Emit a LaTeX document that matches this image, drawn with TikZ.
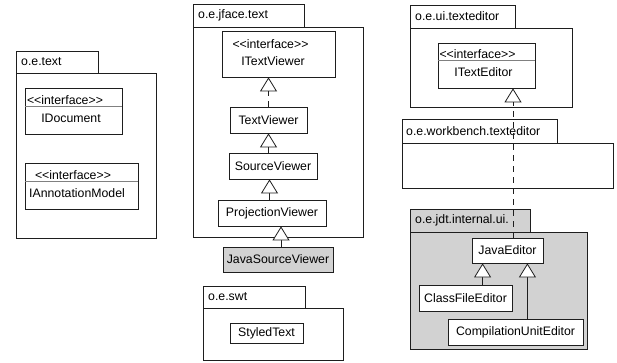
\documentclass[tikz,border=0pt]{standalone}
\usepackage{fontspec}
\newfontfamily\umlfont{Liberation Sans}
\usetikzlibrary{arrows.meta, calc}
\definecolor{pkggray}{RGB}{210,210,210}
\definecolor{boxline}{RGB}{30,30,30}

\tikzset{
  uml/.style={font=\umlfont\fontsize{12.3}{14}\selectfont},
  cls/.style={uml, draw=boxline, line width=0.8pt, fill=white, inner sep=0pt},
  txt/.style={uml, inner sep=0pt},
  pkg/.style={draw=boxline, line width=0.8pt},
  pkglabel/.style={uml, anchor=west, inner sep=0pt},
  gen/.style={line width=0.8pt, draw=boxline,
    -{Triangle[open, fill=white, length=14pt, width=17pt]}},
  real/.style={gen, dash pattern=on 6pt off 5pt}
}

\begin{document}
\begin{tikzpicture}[x=1pt, y=-1pt]

  \useasboundingbox (0,0) rectangle (617,363);

  % packages
  \draw[pkg] (16,73) rectangle (156,238);
  \draw[pkg] (16,51) rectangle (98,73);
  \node[pkglabel] (ptext) at (21,62) {o.e.text};

  \draw[pkg] (193,27) rectangle (363,237);
  \draw[pkg] (193,4) rectangle (304,27);
  \node[pkglabel] (pjface) at (198,15.5) {o.e.jface.text};

  \draw[pkg] (203,308) rectangle (343,360);
  \draw[pkg] (203,286) rectangle (305,308);
  \node[pkglabel] (pswt) at (208,297) {o.e.swt};

  \draw[pkg] (410,28) rectangle (572,107);
  \draw[pkg] (410,5) rectangle (515,28);
  \node[pkglabel] (puite) at (415,16.5) {o.e.ui.texteditor};

  \draw[pkg] (402,143) rectangle (613,188);
  \draw[pkg] (402,119) rectangle (557,143);
  \node[pkglabel] (pwbte) at (406,131) {o.e.workbench.texteditor};

  \draw[pkg, fill=pkggray] (410,232) rectangle (587,349);
  \draw[pkg, fill=pkggray] (410,209) rectangle (530,232);
  \node[pkglabel] (pjdt) at (415,220.5) {o.e.jdt.internal.ui.};

  % o.e.text
  \node[cls, minimum width=97pt, minimum height=46pt] (idoc) at (73.5,111) {};
  \draw[gray, thin] (idoc.west |- 0,106) -- (idoc.east |- 0,106);
  \node[txt] (idocst) at (65,100.5) {<<interface>>};
  \node[txt] (idocnm) at (71,118) {IDocument};

  \node[cls, minimum width=113pt, minimum height=46pt] (iam) at (81.5,186) {};
  \draw[gray, thin] (iam.west |- 0,181) -- (iam.east |- 0,181);
  \node[txt] (iamst) at (73,175.5) {<<interface>>};
  \node[txt] (iamnm) at (77,193) {IAnnotationModel};

  % o.e.jface.text
  \node[cls, minimum width=113pt, minimum height=46pt] (itv) at (278.5,54) {};
  \node[txt] (itvst) at (270.5,44) {<<interface>>};
  \node[txt] (itvnm) at (273,61) {ITextViewer};

  \node[cls, minimum width=77pt, minimum height=26pt] (tv) at (268.5,120) {TextViewer};
  \node[cls, minimum width=88pt, minimum height=26pt] (sv) at (273,166) {SourceViewer};
  \node[cls, minimum width=108pt, minimum height=26pt] (pv) at (272,213) {ProjectionViewer};
  \node[cls, fill=pkggray, minimum width=110pt, minimum height=25pt] (jsv) at (278,259.5) {JavaSourceViewer};

  % o.e.swt
  \node[cls, minimum width=73pt, minimum height=20pt] (st) at (266.5,333) {StyledText};

  % o.e.ui.texteditor
  \node[cls, minimum width=97pt, minimum height=45pt] (ite) at (486.5,65.5) {};
  \draw[gray, thin] (ite.west |- 0,60) -- (ite.east |- 0,60);
  \node[txt] (itest) at (477.5,54.5) {<<interface>>};
  \node[txt] (itenm) at (483.5,72) {ITextEditor};

  % o.e.jdt.internal.ui.
  \node[cls, minimum width=71pt, minimum height=25pt] (je) at (507.5,250.5) {JavaEditor};
  \node[cls, minimum width=93pt, minimum height=26pt] (cfe) at (465.5,298) {ClassFileEditor};
  \node[cls, minimum width=135pt, minimum height=26pt] (cue) at (515.5,332) {CompilationUnitEditor};

  % connectors
  \draw[real] (tv.north) -- (tv.north |- itv.south);
  \draw[gen] (tv.south |- sv.north) -- (tv.south);
  \draw[gen] ([xshift=1pt]tv.south |- pv.north) -- ([xshift=1pt]tv.south |- sv.south);
  \draw[gen] ([xshift=3pt]jsv.north) -- ([xshift=3pt]jsv.north |- pv.south);

  \draw[real] ([xshift=5.5pt]je.north) -- ([xshift=5.5pt]je.north |- ite.south);
  \draw[gen] ([xshift=11pt]je.south west |- cfe.north) -- ([xshift=11pt]je.south west);
  \draw[gen] ([xshift=-16pt]je.south east |- cue.north) -- ([xshift=-16pt]je.south east);

\end{tikzpicture}
\end{document}
